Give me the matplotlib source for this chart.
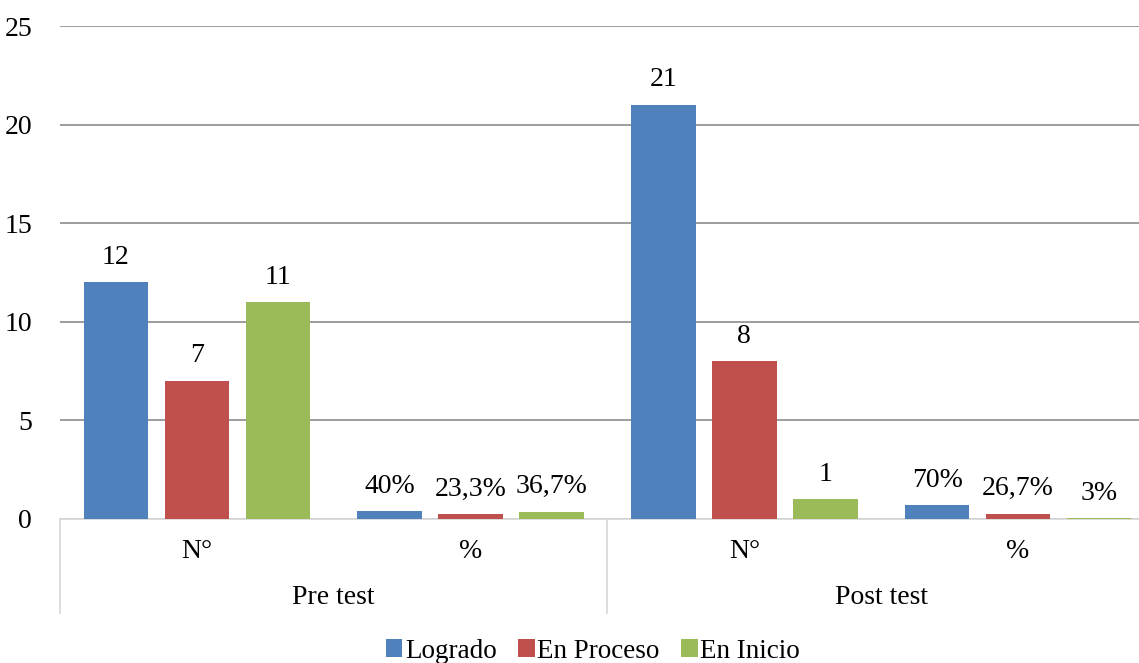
import matplotlib.pyplot as plt
import matplotlib.transforms as mtransforms
from matplotlib.patches import Patch

# multi-level categories (group / sub category)
groups = ['Pre test', 'Post test']
subcats = ['N°', '%', 'N°', '%']

series = ['Logrado', 'En Proceso', 'En Inicio']
logrado = [12, 0.40, 21, 0.70]
proceso = [7, 0.233, 8, 0.267]
inicio = [11, 0.367, 1, 0.03]
logrado_lbl = ['12', '40%', '21', '70%']
proceso_lbl = ['7', '23,3%', '8', '26,7%']
inicio_lbl = ['11', '36,7%', '1', '3%']
colors = ['#4F81BD', '#C0504D', '#9BBB59']

plt.rcParams['font.family'] = ['Liberation Serif', 'DejaVu Serif']
fs = 20

fig = plt.figure(figsize=(11.39, 6.63), dpi=100)
# plot area runs past the right edge like in the original picture
ax = fig.add_axes([60/1139, 144/663, 1095/1139, 493/663])

x = list(range(len(subcats)))
step = 0.296
width = 0.236
all_vals = [logrado, proceso, inicio]
all_lbls = [logrado_lbl, proceso_lbl, inicio_lbl]
for k in range(3):
    xs = [xi + (k - 1) * step for xi in x]
    bars = ax.bar(xs, all_vals[k], width=width, color=colors[k], zorder=3)
    ax.bar_label(bars, labels=all_lbls[k], padding=9, fontsize=fs, color='#000000')

ax.set_xlim(-0.5, 3.5)
ax.set_ylim(0, 25)
ax.set_yticks([0, 5, 10, 15, 20, 25])
ax.yaxis.grid(True, color='#8c8c8c', linewidth=1.2, zorder=0)
ax.set_axisbelow(True)
ax.tick_params(axis='y', length=0, pad=20, labelsize=fs)
ax.set_xticks([])
for s in ['top', 'right', 'left']:
    ax.spines[s].set_visible(False)
ax.spines['bottom'].set_color('#d9d9d9')
ax.spines['bottom'].set_linewidth(1.3)

trans = mtransforms.blended_transform_factory(ax.transData, ax.transAxes)
for i, lab in enumerate(subcats):
    ax.text(i, -0.065, lab, transform=trans, ha='center', va='center', fontsize=fs)
for g, lab in enumerate(groups):
    ax.text(2 * g + 0.5, -0.16, lab, transform=trans, ha='center', va='center', fontsize=fs)
for b in [-0.5, 1.5, 3.5]:
    ax.plot([b, b], [0, -0.19], transform=trans, color='#d9d9d9', linewidth=1.3, clip_on=False)

handles = [Patch(facecolor=c) for c in colors]
fig.legend(handles, series, loc='center', bbox_to_anchor=(593/1139, 1 - 651/663),
           ncol=3, frameon=False, fontsize=19.5, handlelength=0.6, handleheight=0.6,
           handletextpad=0.1, columnspacing=0.8)

fig.savefig('out.png', dpi=100)
